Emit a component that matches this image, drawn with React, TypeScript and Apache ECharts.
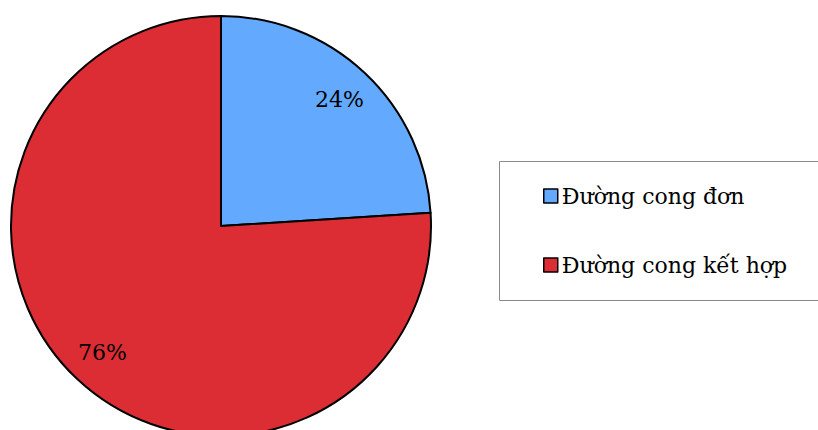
import React, { useEffect, useRef } from "react";
import * as echarts from "echarts";

const categories = ["Đường cong đơn", "Đường cong kết hợp"];
const values = [24, 76];
const colors = ["#63AAFF", "#DC2D34"];

const FONT = "DejaVu Serif";

export default function App() {
  const ref = useRef<HTMLDivElement>(null);
  useEffect(() => {
    document.body.style.margin = "0";
    const chart = echarts.init(ref.current!, null, { renderer: "svg" });
    chart.setOption({
      animation: false,
      backgroundColor: "#ffffff",
      textStyle: { fontFamily: FONT },
      graphic: [
        {
          type: "rect",
          shape: { x: 499.5, y: 161.5, width: 340, height: 139 },
          style: { fill: "#ffffff", stroke: "#8a8a8a", lineWidth: 1 },
          z: 0,
        },
      ],
      legend: {
        orient: "vertical",
        left: 543,
        top: 184,
        padding: 0,
        itemWidth: 14,
        itemHeight: 14,
        itemGap: 45,
        icon: "rect",
        data: categories,
        selectedMode: false,
        itemStyle: { borderColor: "#000", borderWidth: 1.5 },
        textStyle: { fontFamily: FONT, fontSize: 22, color: "#000", lineHeight: 24, padding: [0, 0, 0, -1] },
        z: 5,
      },
      series: [
        {
          type: "pie",
          center: [221, 226],
          radius: [0, 210],
          startAngle: 90,
          clockwise: true,
          silent: true,
          label: { show: false },
          labelLine: { show: false },
          itemStyle: { borderColor: "#000", borderWidth: 2 },
          emphasis: { disabled: true },
          data: categories.map((n, i) => ({ name: n, value: values[i], itemStyle: { color: colors[i] } })),
        },
        {
          type: "pie",
          center: [221, 226],
          radius: [130, 210],
          startAngle: 90,
          clockwise: true,
          silent: true,
          itemStyle: { color: "rgba(0,0,0,0)", borderWidth: 0 },
          label: {
            show: true,
            position: "inside",
            formatter: "{c}%",
            fontFamily: FONT,
            fontSize: 22,
            color: "#000",
          },
          labelLine: { show: false },
          emphasis: { disabled: true },
          data: values.map((v, i) => ({ name: "lbl" + i, value: v })),
        },
      ],
    });
    return () => chart.dispose();
  }, []);
  return <div ref={ref} style={{ width: 818, height: 430 }} />;
}
